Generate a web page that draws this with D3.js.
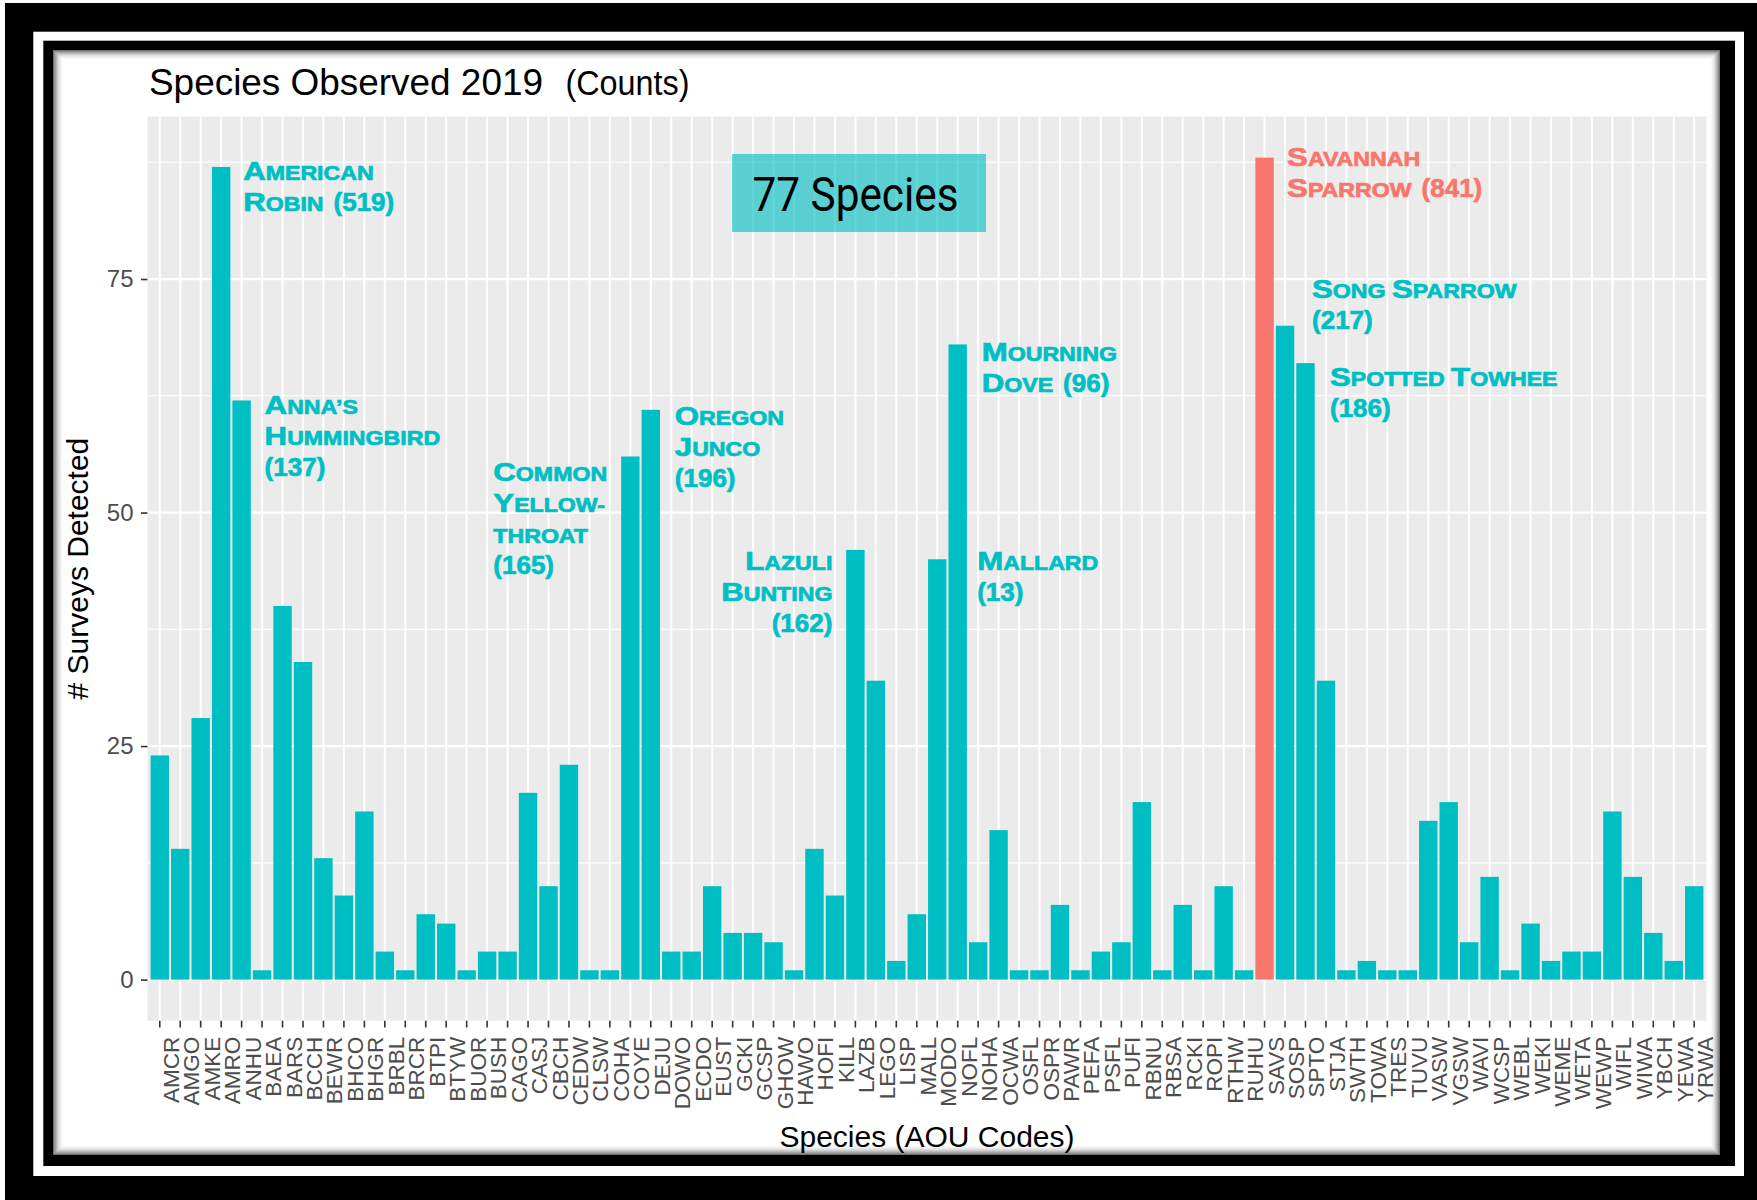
<!DOCTYPE html>
<html>
<head>
<meta charset="utf-8">
<script src="https://cdn.jsdelivr.net/npm/d3@7"></script>
<style>
  body { margin: 0; background: #fff; }
  svg { display: block; }
</style>
</head>
<body>
<div id="main"></div>
<script>
/*********************************************************
 * Data
 *********************************************************/

const species = ['AMCR', 'AMGO', 'AMKE', 'AMRO', 'ANHU', 'BAEA', 'BARS', 'BCCH',
  'BEWR', 'BHCO', 'BHGR', 'BRBL', 'BRCR', 'BTPI', 'BTYW', 'BUOR', 'BUSH', 'CAGO',
  'CASJ', 'CBCH', 'CEDW', 'CLSW', 'COHA', 'COYE', 'DEJU', 'DOWO', 'ECDO', 'EUST',
  'GCKI', 'GCSP', 'GHOW', 'HAWO', 'HOFI', 'KILL', 'LAZB', 'LEGO', 'LISP', 'MALL',
  'MODO', 'NOFL', 'NOHA', 'OCWA', 'OSFL', 'OSPR', 'PAWR', 'PEFA', 'PSFL', 'PUFI',
  'RBNU', 'RBSA', 'RCKI', 'ROPI', 'RTHW', 'RUHU', 'SAVS', 'SOSP', 'SPTO', 'STJA',
  'SWTH', 'TOWA', 'TRES', 'TUVU', 'VASW', 'VGSW', 'WAVI', 'WCSP', 'WEBL', 'WEKI',
  'WEME', 'WETA', 'WEWP', 'WIFL', 'WIWA', 'YBCH', 'YEWA', 'YRWA'];

// number of surveys each species was detected in
const surveys = [24, 14, 28, 87, 62, 1, 40, 34, 13, 9, 18, 3, 1, 7, 6, 1, 3, 3,
  20, 10, 23, 1, 1, 56, 61, 3, 3, 10, 5, 5, 4, 1, 14, 9, 46, 32, 2, 7,
  45, 68, 4, 16, 1, 1, 8, 1, 3, 4, 19, 1, 8, 1, 10, 1, 88, 70, 66, 32,
  1, 2, 1, 1, 17, 19, 4, 11, 1, 6, 2, 3, 3, 18, 11, 5, 2, 10];

const highlighted = 'SAVS';
const speciesTotal = 77;

const yMajorTicks = [0, 25, 50, 75];
const yMinorTicks = [12.5, 37.5, 62.5, 87.5];

// callouts: species the text sits beside, height (in surveys) of first baseline
const callouts = [
  { code: 'AMRO', at: 85.65, dx: 22, lines: ['American', 'Robin (519)'] },
  { code: 'ANHU', at: 60.5, dx: 23, lines: ['Anna’s', 'Hummingbird', '(137)'] },
  { code: 'COYE', at: 53.4, dx: -137, lines: ['Common', 'Yellow-', 'throat', '(165)'] },
  { code: 'DEJU', at: 59.4, dx: 24, lines: ['Oregon', 'Junco', '(196)'] },
  { code: 'LAZB', at: 43.85, dx: -23, lines: ['Lazuli', 'Bunting', '(162)'], anchor: 'end' },
  { code: 'NOFL', at: 66.2, dx: 24, lines: ['Mourning', 'Dove (96)'] },
  { code: 'NOFL', at: 43.85, dx: 19.5, lines: ['Mallard', '(13)'] },
  { code: 'SAVS', at: 87.1, dx: 22.5, lines: ['Savannah', 'Sparrow (841)'], hot: true },
  { code: 'SOSP', at: 72.95, dx: 27, lines: ['Song Sparrow', '(217)'] },
  { code: 'SPTO', at: 63.6, dx: 24.5, lines: ['Spotted Towhee', '(186)'] }
];

/*********************************************************
 * Layout
 *********************************************************/

const svgWidth = 1757;
const svgHeight = 1200;
const panel = { l: 147.5, r: 1706.5, t: 116.5, b: 1020.7 };

const teal = '#00BFC4';
const salmon = '#F8766D';
const font = '"Liberation Sans", Arial, sans-serif';

const svg = d3
  .select('#main')
  .append('svg')
  .attr('width', svgWidth)
  .attr('height', svgHeight);

// picture frame: black, white line, black, then the page
function box(x0, y0, x1, y1, fill) {
  return svg.append('rect')
    .attr('x', x0).attr('y', y0)
    .attr('width', x1 - x0).attr('height', y1 - y0)
    .attr('fill', fill);
}
box(5, 3, svgWidth, svgHeight, '#000');
box(33.3, 31.7, 1744, 1176, '#fff');
box(43.3, 40.7, 1735, 1166, '#000');
box(53.3, 50, 1720, 1155, '#fff');

// soft inner shadow on the page edge
for (let i = 0; i < 10; i++) {
  svg.append('rect')
    .attr('x', 53.3 + i + 0.5).attr('y', 50 + i + 0.5)
    .attr('width', 1720 - 53.3 - 2 * i - 1)
    .attr('height', 1155 - 50 - 2 * i - 1)
    .attr('fill', 'none')
    .attr('stroke', '#000')
    .attr('stroke-opacity', 0.55 * Math.pow(1 - i / 10, 2));
}

/*********************************************************
 * Scales
 *********************************************************/

const x = d3.scaleBand()
  .domain(species)
  .range([panel.l, panel.r])
  .paddingInner(0.1)
  .paddingOuter(0.15);

const y = d3.scaleLinear()
  .domain([-4.4, 92.4])
  .range([panel.b, panel.t]);

const xc = d => x(d) + x.bandwidth() / 2;

/*********************************************************
 * Panel, grid and bars
 *********************************************************/

svg.append('rect')
  .attr('x', panel.l).attr('y', panel.t)
  .attr('width', panel.r - panel.l).attr('height', panel.b - panel.t)
  .attr('fill', '#EBEBEB');

const grid = svg.append('g').attr('stroke', '#fff');

grid.selectAll('.minor')
  .data(yMinorTicks)
  .enter().append('line')
  .attr('x1', panel.l).attr('x2', panel.r)
  .attr('y1', d => y(d)).attr('y2', d => y(d))
  .attr('stroke-width', 1.1);

grid.selectAll('.major')
  .data(yMajorTicks)
  .enter().append('line')
  .attr('x1', panel.l).attr('x2', panel.r)
  .attr('y1', d => y(d)).attr('y2', d => y(d))
  .attr('stroke-width', 2.2);

grid.selectAll('.vert')
  .data(species)
  .enter().append('line')
  .attr('x1', xc).attr('x2', xc)
  .attr('y1', panel.t).attr('y2', panel.b)
  .attr('stroke-width', 2);

svg.append('g')
  .selectAll('rect')
  .data(species.map((s, i) => ({ code: s, n: surveys[i] })))
  .enter().append('rect')
  .attr('x', d => x(d.code))
  .attr('width', x.bandwidth())
  .attr('y', d => y(d.n))
  .attr('height', d => y(0) - y(d.n))
  .attr('fill', d => d.code === highlighted ? salmon : teal);

/*********************************************************
 * Axes
 *********************************************************/

const yAxis = svg.append('g')
  .attr('transform', `translate(${panel.l},0)`)
  .call(d3.axisLeft(y).tickValues(yMajorTicks).tickSize(6.5).tickPadding(7.5));
yAxis.select('.domain').remove();
yAxis.selectAll('line').attr('stroke', '#333').attr('stroke-width', 1.6);
yAxis.selectAll('text')
  .attr('fill', '#4D4D4D')
  .style('font-family', font)
  .style('font-size', '24px');

const xAxis = svg.append('g')
  .attr('transform', `translate(0,${panel.b})`)
  .call(d3.axisBottom(x).tickSize(6.8));
xAxis.select('.domain').remove();
xAxis.selectAll('line').attr('stroke', '#333').attr('stroke-width', 1.6);
xAxis.selectAll('text')
  .attr('x', -16)
  .attr('y', 19)
  .attr('dy', null)
  .attr('transform', 'rotate(-90)')
  .attr('text-anchor', 'end')
  .attr('fill', '#4D4D4D')
  .style('font-family', font)
  .style('font-size', '22.5px');

svg.append('text')
  .attr('transform', `translate(88.3,${(panel.t + panel.b) / 2}) rotate(-90)`)
  .attr('text-anchor', 'middle')
  .style('font-family', font)
  .style('font-size', '30px')
  .text('# Surveys Detected');

svg.append('text')
  .attr('x', (panel.l + panel.r) / 2)
  .attr('y', 1147)
  .attr('text-anchor', 'middle')
  .style('font-family', font)
  .style('font-size', '30px')
  .text('Species (AOU Codes)');

// titles
svg.append('text')
  .attr('x', 149).attr('y', 94.5)
  .attr('textLength', 394).attr('lengthAdjust', 'spacingAndGlyphs')
  .style('font-family', font)
  .style('font-size', '36px')
  .text('Species Observed 2019');

svg.append('text')
  .attr('x', 565.5).attr('y', 94.5)
  .attr('textLength', 124).attr('lengthAdjust', 'spacingAndGlyphs')
  .style('font-family', '"Liberation Sans Narrow", ' + font)
  .style('font-size', '35px')
  .text('(Counts)');

/*********************************************************
 * "77 Species" box
 *********************************************************/

svg.append('rect')
  .attr('x', 732).attr('y', 154)
  .attr('width', 254).attr('height', 78)
  .attr('fill', teal)
  .attr('fill-opacity', 0.62);

svg.append('text')
  .attr('x', 752.5).attr('y', 210.5)
  .attr('textLength', 206).attr('lengthAdjust', 'spacingAndGlyphs')
  .style('font-family', 'Roboto, ' + font)
  .style('font-size', '48.5px')
  .text(speciesTotal + ' Species');

/*********************************************************
 * Callouts in bold small caps
 *********************************************************/

const bigSize = 26;
const smallSize = 19.3;
const stretch = 1.2;
const lineGap = 31;

function heavy(t, color) {
  return t
    .attr('fill', color)
    .attr('stroke', color)
    .attr('stroke-width', 0.7)
    .style('font-family', font)
    .style('font-weight', 'bold');
}

// upper-case letters stay big, lower-case ones become small capitals
function smallCapsLine(g, words, yb, color) {
  const t = heavy(g.append('text').attr('y', yb), color);
  let run = '';
  let runBig = null;
  const flush = () => {
    if (!run) return;
    t.append('tspan')
      .style('font-size', (runBig ? bigSize : smallSize) + 'px')
      .text(run.toUpperCase());
    run = '';
  };
  for (const ch of words) {
    const big = /[A-Z0-9(]/.test(ch);
    if (big !== runBig) { flush(); runBig = big; }
    run += ch;
  }
  flush();
  const w = t.node().getComputedTextLength() * stretch;
  t.attr('textLength', w).attr('lengthAdjust', 'spacingAndGlyphs');
  return { node: t, width: w };
}

function numberPart(g, num, yb, color) {
  const t = heavy(g.append('text').attr('y', yb), color)
    .style('font-size', bigSize + 'px')
    .text(num);
  return { node: t, width: t.node().getComputedTextLength() };
}

const notes = svg.append('g');
callouts.forEach(c => {
  const color = c.hot ? salmon : teal;
  const x0 = xc(c.code) + c.dx;
  const y0 = y(c.at);
  c.lines.forEach((line, li) => {
    const yb = y0 + li * lineGap;
    const m = line.match(/^(.*?)\s*(\(\d+\))?$/);
    const words = m[1];
    const num = m[2];
    const parts = [];
    let cursor = 0;
    if (words) {
      const p = smallCapsLine(notes, words, yb, color);
      parts.push({ p, at: cursor });
      cursor += p.width;
    }
    if (num) {
      if (words) cursor += 10;
      const p = numberPart(notes, num, yb, color);
      parts.push({ p, at: cursor });
      cursor += p.width;
    }
    const start = c.anchor === 'end' ? x0 - cursor : x0;
    parts.forEach(d => d.p.node.attr('x', start + d.at));
  });
});
</script>
</body>
</html>
